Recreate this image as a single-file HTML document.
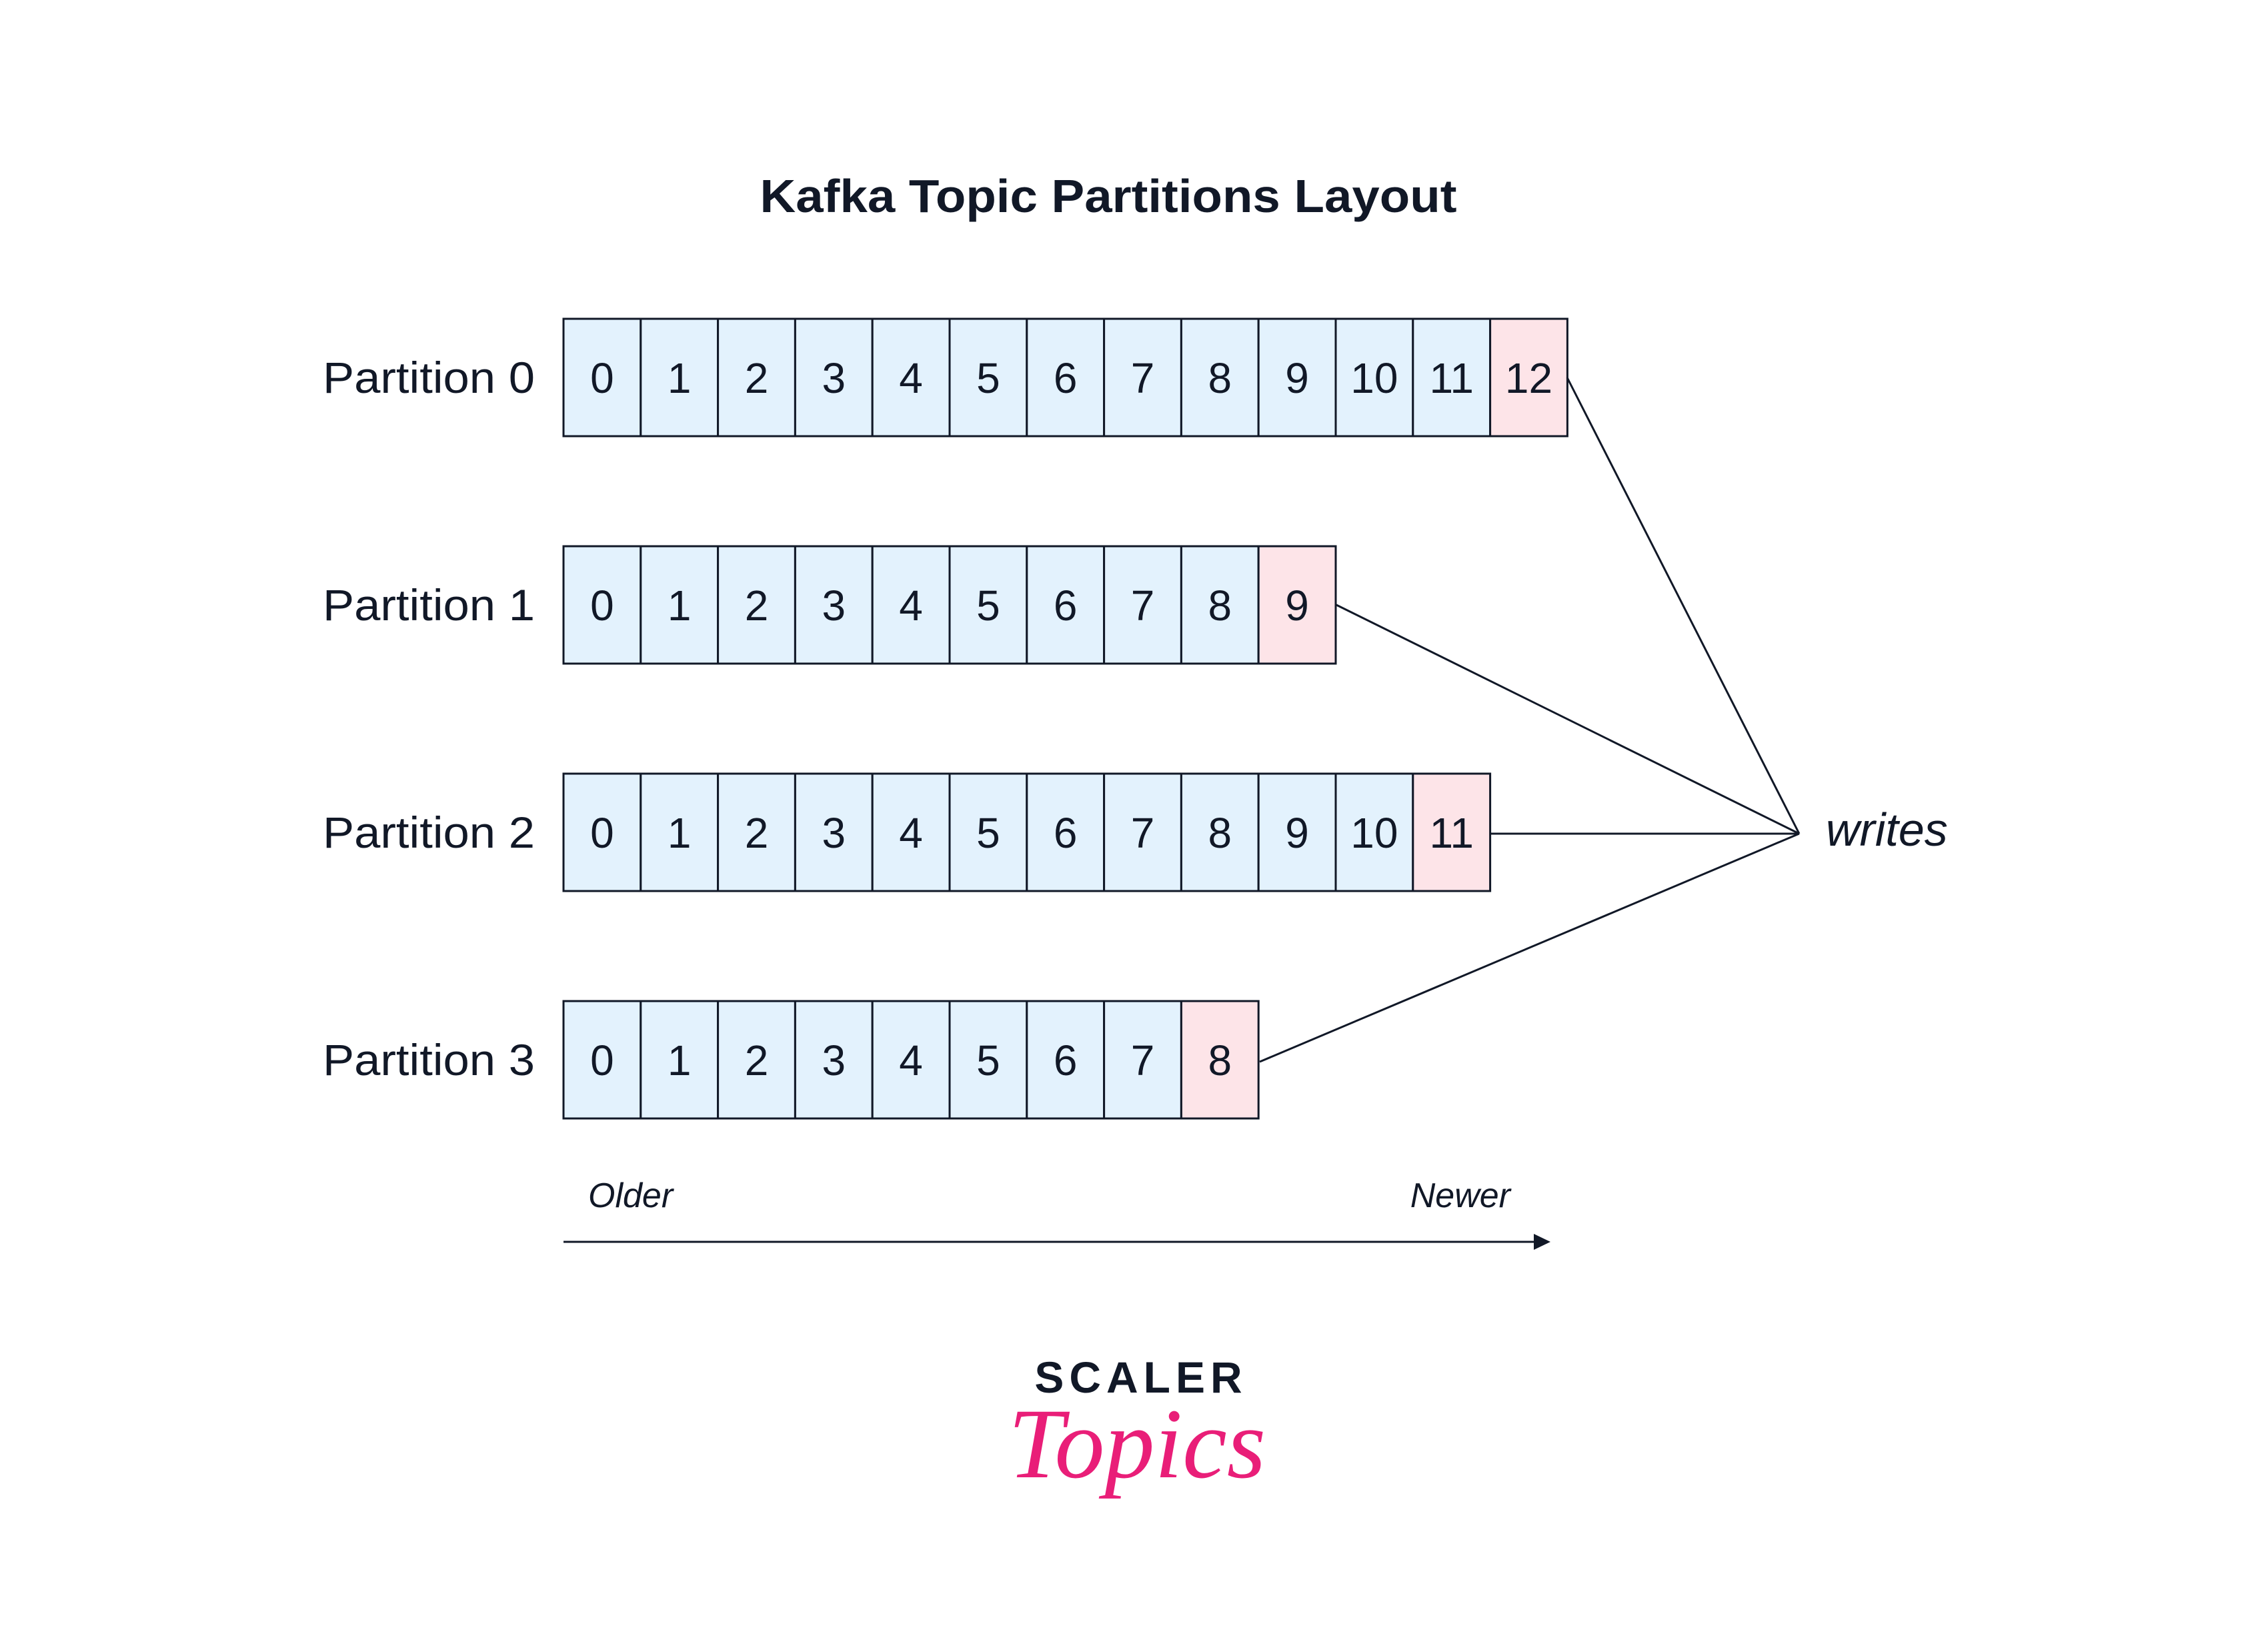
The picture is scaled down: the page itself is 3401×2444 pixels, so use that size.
<!DOCTYPE html>
<html><head><meta charset="utf-8"><style>
html,body{margin:0;padding:0;background:#fff;}
svg{display:block;}
text{font-family:"Liberation Sans",sans-serif;fill:#111827;}
</style></head><body>
<svg width="3401" height="2444" viewBox="0 0 3401 2444" xmlns="http://www.w3.org/2000/svg">
<rect width="3401" height="2444" fill="#fff"/>
<text x="1662" y="318" font-size="70" font-weight="bold" text-anchor="middle" textLength="1045" lengthAdjust="spacingAndGlyphs">Kafka Topic Partitions Layout</text>
<g id="rows"></g>
<g stroke="#111827" stroke-width="3" fill="none">
<line x1="2350" y1="566" x2="2698" y2="1250"/>
<line x1="2004" y1="907" x2="2698" y2="1250"/>
<line x1="2234" y1="1250" x2="2698" y2="1250"/>
<line x1="1889" y1="1592" x2="2698" y2="1250"/>
<line x1="845" y1="1862" x2="2305" y2="1862"/>
</g>
<polygon points="2325,1862 2300,1850 2300,1874" fill="#111827"/>
<text x="2738" y="1268" font-size="70" font-style="italic">writes</text>
<text x="882" y="1810" font-size="52" font-style="italic">Older</text>
<text x="2265" y="1810" font-size="52" font-style="italic" text-anchor="end">Newer</text>
<text x="1711" y="2088" font-size="66" font-weight="bold" text-anchor="middle" letter-spacing="8">SCALER</text>
<text x="1705" y="2215" font-size="150" font-style="italic" text-anchor="middle" style="font-family:'Liberation Serif',serif;fill:#e91e78">Topics</text>
</svg>
<script>
const g=document.getElementById('rows');
const counts=[13,10,12,9],tops=[478,819,1160,1501];
const x0=845,w=115.8,h=176;
let s='';
counts.forEach((n,r)=>{
 const y=tops[r];
 s+=`<text x="802" y="${y+h/2+23}" font-size="66" text-anchor="end" textLength="318" lengthAdjust="spacingAndGlyphs">Partition ${r}</text>`;
 for(let i=0;i<n;i++){
  const x=x0+i*w;
  s+=`<rect x="${x}" y="${y}" width="${w}" height="${h}" fill="${i==n-1?'#fde4e8':'#e3f2fd'}" stroke="#111827" stroke-width="3"/>`;
  s+=`<text x="${x+w/2}" y="${y+h/2+23}" font-size="64" text-anchor="middle">${i}</text>`;
 }
});
g.innerHTML=s;
</script>
</body></html>
